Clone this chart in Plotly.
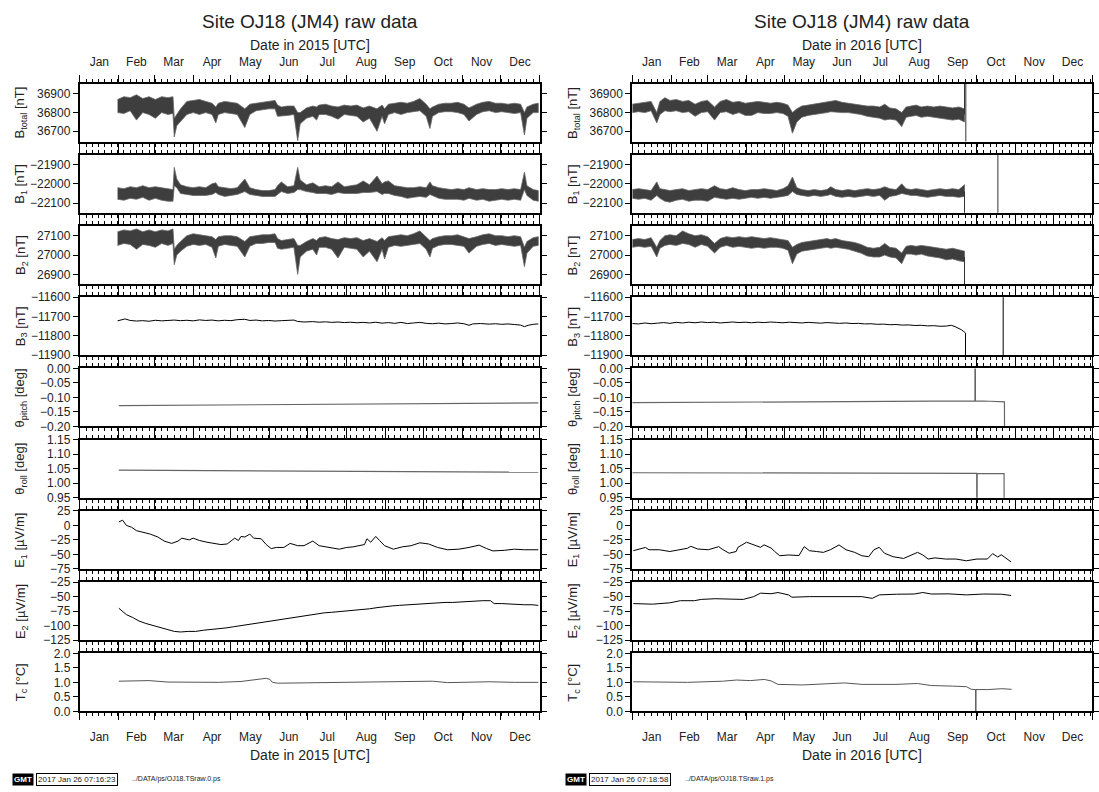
import numpy as np
import pandas as pd
import plotly.graph_objects as go

# ---------------------------------------------------------------- data (2015)
B15_DAY = [30, 35, 40, 45, 50, 55, 60, 65, 70, 74, 75, 77, 80, 85, 90, 95, 100, 105, 108, 110,
           115, 120, 125, 131, 135, 140, 145, 150, 155, 157, 160, 165, 170, 173, 175, 180, 185, 188, 190, 195,
           200, 205, 210, 215, 220, 225, 230, 236, 240, 242, 245, 250, 255, 260, 265, 270, 275, 278, 280, 285,
           290, 295, 300, 305, 309, 315, 320, 325, 330, 335, 340, 345, 350, 353, 355, 360, 364]
BT15_HI = [36870, 36885, 36880, 36895, 36875, 36885, 36870, 36885, 36880, 36885, 36770, 36790, 36820, 36860, 36865, 36870, 36860, 36850, 36830, 36850,
           36860, 36855, 36850, 36820, 36845, 36850, 36855, 36860, 36865, 36840, 36830, 36835, 36835, 36800, 36800, 36825, 36835, 36830, 36840, 36845,
           36835, 36830, 36840, 36835, 36840, 36825, 36835, 36820, 36840, 36820, 36845, 36850, 36855, 36850, 36860, 36875, 36845, 36820, 36830, 36845,
           36850, 36850, 36855, 36845, 36825, 36845, 36855, 36860, 36850, 36850, 36845, 36850, 36845, 36800, 36830, 36845, 36850]
BT15_LO = [36800, 36795, 36810, 36760, 36800, 36790, 36770, 36800, 36790, 36795, 36670, 36730, 36750, 36790, 36800, 36790, 36800, 36790, 36745, 36790,
           36800, 36795, 36790, 36720, 36790, 36810, 36815, 36820, 36820, 36780, 36780, 36785, 36790, 36650, 36740, 36770, 36780, 36760, 36790, 36790,
           36780, 36765, 36790, 36785, 36780, 36750, 36770, 36700, 36780, 36740, 36790, 36800, 36790, 36800, 36805, 36810, 36780, 36715, 36780, 36800,
           36805, 36805, 36800, 36790, 36755, 36790, 36805, 36810, 36800, 36805, 36800, 36795, 36800, 36680, 36770, 36800, 36800]
B1_15_HI = [-22020, -22025, -22015, -22020, -22010, -22020, -22015, -22020, -22025, -22030, -21915, -21975, -22005, -22015, -22020, -22015, -22020, -22000, -21995, -22015,
            -22020, -22025, -22020, -21975, -22020, -22030, -22035, -22035, -22030, -22010, -21990, -22015, -22010, -21915, -21980, -22005, -21995, -22005, -22015, -22010,
            -22015, -21990, -22015, -22010, -22005, -21985, -22005, -21960, -22000, -21990, -21985, -22010, -22015, -22020, -22020, -22015, -22020, -21990, -22010, -22020,
            -22025, -22030, -22025, -22030, -22020, -22030, -22025, -22030, -22030, -22025, -22030, -22025, -22030, -21940, -22010, -22030, -22035]
B1_15_LO = [-22080, -22085, -22075, -22080, -22070, -22085, -22075, -22085, -22090, -22090, -22010, -22020, -22050, -22055, -22060, -22060, -22060, -22055, -22045, -22055,
            -22065, -22060, -22055, -22040, -22055, -22060, -22065, -22065, -22065, -22055, -22040, -22050, -22045, -22030, -22030, -22040, -22045, -22050, -22050, -22050,
            -22055, -22045, -22050, -22050, -22050, -22045, -22045, -22040, -22055, -22050, -22050, -22060, -22065, -22075, -22070, -22065, -22070, -22055, -22060, -22075,
            -22080, -22080, -22080, -22085, -22075, -22085, -22080, -22090, -22085, -22080, -22085, -22080, -22085, -22030, -22060, -22085, -22090]
B2_15_HI = [27120, 27130, 27125, 27135, 27120, 27130, 27120, 27130, 27125, 27135, 27030, 27050, 27070, 27100, 27110, 27105, 27100, 27095, 27080, 27095,
            27100, 27100, 27095, 27070, 27095, 27100, 27105, 27105, 27110, 27085, 27075, 27080, 27085, 27050, 27050, 27070, 27085, 27075, 27090, 27095,
            27085, 27080, 27090, 27085, 27090, 27075, 27085, 27070, 27090, 27075, 27095, 27100, 27105, 27100, 27110, 27125, 27095, 27075, 27085, 27095,
            27100, 27100, 27105, 27095, 27085, 27095, 27105, 27110, 27100, 27100, 27095, 27100, 27095, 27040, 27070, 27090, 27095]
B2_15_LO = [27050, 27060, 27055, 27030, 27055, 27050, 27040, 27060, 27050, 27060, 26950, 27000, 27020, 27045, 27055, 27050, 27055, 27040, 26985, 27045,
            27055, 27050, 27045, 26990, 27045, 27060, 27060, 27065, 27065, 27035, 27030, 27035, 27040, 26900, 26990, 27020, 27030, 27000, 27040, 27040,
            27030, 26985, 27040, 27035, 27030, 26990, 27020, 26965, 27030, 26980, 27040, 27050, 27045, 27050, 27055, 27060, 27030, 26990, 27035, 27050,
            27055, 27055, 27050, 27045, 27010, 27045, 27055, 27060, 27050, 27055, 27050, 27045, 27050, 26940, 27010, 27045, 27050]
B3_15_DAY = [30, 33, 36, 40, 45, 50, 55, 60, 65, 70, 75, 80, 85, 90, 95, 100, 105, 110, 115, 120,
             125, 131, 135, 140, 145, 150, 155, 160, 165, 170, 173, 178, 185, 190, 195, 200, 205, 210, 215, 220,
             225, 230, 235, 240, 245, 250, 255, 260, 265, 270, 275, 280, 285, 290, 295, 300, 305, 309, 312, 318,
             325, 330, 335, 340, 345, 350, 353, 356, 360, 364]
B3_15_VAL = [-11722, -11718, -11712, -11720, -11723, -11721, -11724, -11719, -11722, -11720, -11718, -11721, -11719, -11722, -11717, -11720, -11718, -11722, -11719, -11721,
             -11716, -11714, -11720, -11718, -11722, -11720, -11723, -11721, -11719, -11718, -11725, -11728, -11726, -11729, -11727, -11730, -11728, -11731, -11729, -11732,
             -11730, -11733, -11729, -11734, -11731, -11735, -11730, -11736, -11733, -11730, -11735, -11737, -11734, -11738, -11736, -11733, -11737, -11745, -11738, -11736,
             -11739, -11737, -11740, -11738, -11741, -11744, -11752, -11745, -11740, -11738]
PITCH15_DAY = [31, 90, 150, 210, 270, 330, 364]
PITCH15_VAL = [-0.128, -0.126, -0.124, -0.122, -0.120, -0.119, -0.119]
ROLL15_DAY = [31, 100, 170, 240, 300, 364]
ROLL15_VAL = [1.045, 1.044, 1.042, 1.040, 1.039, 1.038]
E1_15_DAY = [31, 34, 37, 41, 45, 51, 56, 62, 67, 73, 78, 81, 87, 90, 95, 101, 106, 112, 117, 123,
             126, 128, 131, 135, 138, 144, 148, 152, 156, 162, 167, 173, 178, 185, 190, 198, 206, 212, 217, 226,
             228, 231, 235, 238, 242, 249, 256, 263, 270, 277, 284, 292, 301, 309, 317, 323, 328, 337, 345, 353, 364]
E1_15_VAL = [6, 9, 0, -3, -9, -12, -15, -20, -27, -31, -27, -22, -25, -22, -26, -29, -31, -33, -32, -22,
             -26, -19, -20, -15, -22, -23, -33, -40, -38, -38, -31, -35, -35, -27, -35, -38, -41, -38, -37, -33,
             -23, -29, -19, -26, -35, -41, -37, -35, -30, -32, -38, -42, -41, -38, -34, -40, -44, -43, -41, -42, -42]
E2_15_DAY = [31, 33, 37, 42, 47, 52, 58, 64, 70, 75, 80, 86, 92, 98, 104, 110, 116, 122, 128, 134,
             140, 146, 152, 158, 164, 170, 176, 182, 188, 194, 200, 206, 212, 218, 224, 230, 236, 242, 248, 254,
             260, 266, 272, 278, 284, 290, 296, 302, 308, 314, 320, 326, 329, 335, 341, 347, 353, 359, 364]
E2_15_VAL = [-70, -74, -81, -86, -92, -96, -100, -104, -107, -110, -111, -110, -110, -108, -107, -105, -104, -102, -100, -98,
             -96, -94, -91, -89, -87, -85, -83, -82, -80, -78, -77, -76, -75, -74, -73, -71, -69, -67, -66, -65,
             -64, -63, -62, -62, -61, -60, -60, -59, -59, -58, -57, -57, -62, -62, -63, -63, -64, -64, -65]
TC15_DAY = [31, 45, 55, 70, 90, 110, 128, 136, 145, 148, 151, 153, 157, 180, 210, 240, 270, 280, 292, 310, 325, 345, 364]
TC15_VAL = [1.04, 1.05, 1.06, 1.01, 1.00, 1.00, 1.03, 1.08, 1.12, 1.14, 1.10, 1.00, 0.97, 0.98, 0.99, 1.01, 1.03, 1.04, 0.99, 1.00, 1.02, 1.00, 1.00]

# ---------------------------------------------------------------- data (2016)
B16_DAY = [0, 5, 10, 15, 19.5, 22, 26, 30, 35, 40, 45, 50, 55, 60, 65.5, 70, 75, 80, 85, 90,
           95, 100, 105, 110, 115, 120, 124, 127.5, 131, 135, 140, 145, 150, 155, 158, 162, 167, 172, 177, 182,
           187, 192, 197, 201, 205, 210, 214.5, 218, 222, 226, 230, 235, 240, 245, 250, 255, 260, 264.5]
BT16_HI = [36845, 36850, 36855, 36860, 36800, 36860, 36880, 36865, 36870, 36860, 36865, 36845, 36860, 36865, 36830, 36860, 36870, 36855, 36860, 36850,
           36855, 36860, 36855, 36850, 36855, 36850, 36840, 36800, 36820, 36835, 36840, 36845, 36850, 36855, 36860, 36865, 36855, 36850, 36845, 36840,
           36835, 36835, 36830, 36845, 36825, 36820, 36800, 36830, 36835, 36840, 36830, 36835, 36830, 36835, 36830, 36825, 36830, 36820]
BT16_LO = [36800, 36805, 36800, 36810, 36745, 36790, 36810, 36805, 36810, 36800, 36805, 36780, 36800, 36805, 36760, 36800, 36805, 36790, 36800, 36785,
           36785, 36800, 36795, 36795, 36800, 36795, 36780, 36690, 36750, 36775, 36785, 36790, 36795, 36800, 36805, 36805, 36800, 36800, 36795, 36790,
           36780, 36775, 36770, 36760, 36765, 36760, 36725, 36775, 36780, 36785, 36775, 36780, 36775, 36770, 36765, 36760, 36765, 36750]
B1_16_HI = [-22030, -22025, -22030, -22035, -21990, -22025, -22030, -22035, -22030, -22025, -22035, -22030, -22025, -22030, -22010, -22025, -22030, -22020, -22030, -22035,
            -22030, -22030, -22025, -22030, -22035, -22025, -22010, -21965, -22020, -22030, -22035, -22030, -22035, -22030, -22015, -22030, -22035, -22030, -22035, -22030,
            -22025, -22030, -22025, -22015, -22025, -22030, -22000, -22025, -22030, -22025, -22030, -22035, -22030, -22025, -22030, -22025, -22030, -22005]
B1_16_LO = [-22075, -22080, -22075, -22085, -22060, -22075, -22090, -22095, -22085, -22080, -22090, -22085, -22085, -22090, -22070, -22075, -22080, -22075, -22080, -22075,
            -22070, -22075, -22070, -22075, -22070, -22065, -22060, -22040, -22055, -22060, -22065, -22060, -22065, -22060, -22055, -22065, -22070, -22065, -22070, -22065,
            -22060, -22065, -22060, -22085, -22065, -22060, -22050, -22055, -22060, -22060, -22065, -22070, -22065, -22060, -22065, -22065, -22070, -22065]
B2_16_HI = [27080, 27085, 27080, 27090, 27040, 27075, 27100, 27105, 27100, 27125, 27110, 27100, 27105, 27095, 27060, 27085, 27095, 27090, 27095, 27090,
            27095, 27090, 27085, 27090, 27085, 27080, 27075, 27040, 27055, 27065, 27070, 27075, 27080, 27085, 27080, 27085, 27075, 27070, 27065, 27055,
            27040, 27035, 27040, 27060, 27040, 27035, 27010, 27045, 27050, 27045, 27050, 27045, 27040, 27035, 27030, 27035, 27025, 27020]
B2_16_LO = [27040, 27045, 27040, 27045, 26990, 27035, 27050, 27055, 27050, 27060, 27055, 27040, 27055, 27045, 27010, 27040, 27050, 27040, 27045, 27040,
            27035, 27040, 27035, 27040, 27040, 27035, 27025, 26955, 27005, 27020, 27025, 27030, 27035, 27040, 27035, 27040, 27035, 27030, 27020, 27010,
            26995, 26990, 26990, 27000, 26990, 26985, 26955, 27005, 27005, 27000, 27005, 26995, 26990, 26985, 26975, 26980, 26970, 26965]
# end-of-record dropouts (values far off scale)
BT16_TAIL_DAY = [264.5, 265.5, 265.6]
BT16_TAIL_VAL = [36790, 60000, 0]
B1_16_TAIL_DAY = [264.5, 265.5, 291.0, 291.1]
B1_16_TAIL_VAL = [-22040, -60000, -60000, 0]
B2_16_TAIL_DAY = [264.5, 265.5]
B2_16_TAIL_VAL = [26990, 0]
B3_16_DAY = [0, 5, 10, 15, 20, 25, 30, 35, 40, 45, 50, 55, 60, 65, 70, 75, 80, 85, 90, 95,
             100, 105, 110, 115, 120, 125, 130, 135, 140, 145, 150, 155, 160, 165, 170, 175, 180, 185, 190, 195,
             200, 205, 210, 215, 220, 225, 230, 235, 240, 245, 250, 254, 257, 260, 262, 264, 265.3, 265.5, 295.2, 295.3]
B3_16_VAL = [-11736, -11738, -11733, -11737, -11734, -11731, -11735, -11730, -11733, -11729, -11732, -11728, -11731, -11729, -11733, -11730, -11728, -11731, -11729, -11732,
             -11729, -11731, -11728, -11730, -11732, -11729, -11731, -11733, -11730, -11732, -11734, -11731, -11733, -11735, -11733, -11736, -11735, -11738, -11737, -11740,
             -11739, -11742, -11741, -11744, -11743, -11746, -11745, -11748, -11747, -11750, -11749, -11745, -11752, -11760, -11768, -11778, -11785, -60000, -60000, 0]
PITCH16_DAY = [0, 60, 120, 180, 215, 250, 272.8, 273.0, 273.2, 285, 296.3, 296.5]
PITCH16_VAL = [-0.118, -0.117, -0.117, -0.116, -0.113, -0.113, -0.112, 0.5, -0.112, -0.113, -0.115, -0.5]
ROLL16_DAY = [0, 60, 120, 180, 240, 274.2, 274.4, 274.6, 285, 296, 296.2]
ROLL16_VAL = [1.036, 1.036, 1.035, 1.035, 1.034, 1.034, 0.5, 1.034, 1.033, 1.033, 0.5]
E1_16_DAY = [0.8, 10.5, 13.3, 21.6, 29.9, 38.3, 43.8, 46.6, 52.1, 60.5, 68.8, 71.6, 77.1, 82.7, 84.1, 91, 96.6, 102.1, 104.9, 110.5,
             113.3, 117.4, 124.4, 132.7, 136.9, 141, 146.6, 152.1, 157.7, 164.6, 170.2, 177.1, 182.7, 188.2, 192.4, 196.6, 200.8, 207.7, 216, 221.6,
             227.1, 231.3, 235.5, 241, 249.4, 257.7, 266, 274.4, 282.7, 286.9, 291, 293.8, 298, 301.6]
E1_16_VAL = [-43.6, -38, -42, -42, -45, -42, -39.5, -36, -40.7, -42, -36.6, -41, -48, -45, -37.8, -29, -33.7, -37.8, -33.5, -39,
             -44.8, -52.3, -51, -52, -36.6, -43.6, -45, -46.5, -42, -33.7, -42, -46.5, -52.3, -54, -41.9, -37.8, -48, -54, -57, -52.3,
             -46.5, -51, -58, -56, -58, -58, -61, -58, -58, -48.7, -54.5, -50.6, -58, -63]
E2_16_DAY = [0.8, 16, 29.9, 38.3, 49.4, 54.9, 66, 77.1, 88.3, 96.6, 102.1, 110.5, 116, 124.4, 127.1, 141, 154.9, 168.8, 182.7, 191,
             196.6, 210.5, 224.4, 231.3, 238.2, 252.1, 266, 279.9, 293.8, 301.6]
E2_16_VAL = [-62, -63, -60.7, -57, -57, -54.8, -53.6, -54.5, -54.8, -50, -44, -45, -42.9, -47, -51, -50, -50, -48.8, -50, -53,
             -47, -45.8, -45.5, -42.9, -45.5, -45.2, -47, -45.5, -45.8, -48]
TC16_DAY = [0.8, 44, 72, 83, 94, 105, 110.5, 116, 135.5, 155, 169, 183, 210, 227, 238, 255, 266, 270, 273.4, 273.5, 273.6, 283, 294, 302]
TC16_VAL = [1.02, 1.00, 1.04, 1.08, 1.06, 1.10, 1.05, 0.93, 0.91, 0.94, 0.98, 0.93, 0.93, 0.96, 0.89, 0.87, 0.85, 0.76, 0.75, -1.0, 0.75, 0.75, 0.78, 0.76]

# ---------------------------------------------------------------- panel definitions
Y_TITLES = ["B<sub>total</sub> [nT]", "B<sub>1</sub> [nT]", "B<sub>2</sub> [nT]", "B<sub>3</sub> [nT]",
            "θ<sub>pitch</sub> [deg]", "θ<sub>roll</sub> [deg]", "E<sub>1</sub> [µV/m]", "E<sub>2</sub> [µV/m]",
            "T<sub>c</sub> [°C]"]
Y_RANGES = [[36645, 36955], [-22150, -21850], [26850, 27150], [-11900, -11600], [-0.20, 0.00],
            [0.95, 1.15], [-75, 25], [-125, -25], [0.0, 2.0]]
Y_TICKS = [[36700, 36800, 36900], [-22100, -22000, -21900], [26900, 27000, 27100],
           [-11900, -11800, -11700, -11600], [-0.20, -0.15, -0.10, -0.05, 0.00],
           [0.95, 1.00, 1.05, 1.10, 1.15], [-75, -50, -25, 0, 25], [-125, -100, -75, -50, -25],
           [0.0, 0.5, 1.0, 1.5, 2.0]]
Y_DEC = [0, 0, 0, 0, 2, 2, 0, 0, 1]
YEARS = [2015, 2016]
TITLE = "Site OJ18 (JM4) raw data"
FOOT_TIME = ["2017 Jan 26 07:16:23", "2017 Jan 26 07:18:58"]
FOOT_PATH = ["../DATA/ps/OJ18.TSraw.0.ps", "../DATA/ps/OJ18.TSraw.1.ps"]

# ---------------------------------------------------------------- layout geometry
W, H = 1099, 792
COL_X = [(80, 541), (634, 1095)]
TOP0, STEP, PH = 78.0, 72.5, 59.0
FONT = "Liberation Sans, Arial, Helvetica, sans-serif"


def dates(year, days):
    return pd.Timestamp(f"{year}-01-01") + pd.to_timedelta(np.asarray(days, dtype=float), unit="D")


def fmt(v, d):
    s = f"{v:.{d}f}"
    return s.replace("-", "\u2212")


fig = go.Figure()
layout = {}
annotations = []


def axname(c, p):
    i = c * 9 + p + 1
    return ("x" if i == 1 else f"x{i}"), ("y" if i == 1 else f"y{i}"), i


def ann(px, py, text, size, **kw):
    d = dict(x=px / W, y=1 - py / H, xref="paper", yref="paper", text=text, showarrow=False,
             xanchor="center", yanchor="middle", font=dict(family=FONT, size=size, color="#222"))
    d.update(kw)
    annotations.append(d)


for c, year in enumerate(YEARS):
    x0, x1 = COL_X[c]
    for p in range(9):
        xr, yr, i = axname(c, p)
        top = TOP0 + STEP * p
        bot = top + PH
        xa = dict(
            type="date", range=[f"{year}-01-01", f"{year + 1}-01-01"],
            domain=[x0 / W, x1 / W], anchor=yr,
            showline=True, linecolor="black", linewidth=2, mirror="ticks",
            ticks="outside", ticklen=7, tickwidth=1, tickcolor="black",
            dtick="M1", tick0=f"{year}-01-01", tickformat="%b", ticklabelmode="period",
            showgrid=False, zeroline=False,
            minor=dict(ticks="outside", ticklen=3, tickwidth=1, tickcolor="black",
                       dtick=5 * 86400000, tick0=f"{year}-01-01", showgrid=False),
            showticklabels=(p == 0 or p == 8), side=("top" if p == 0 else "bottom"),
            ticklabelstandoff=(4 if p == 0 else 6),
            tickfont=dict(family=FONT, size=12, color="#222"),
        )
        lo, hi = Y_RANGES[p]
        eps = (hi - lo) * 1e-6
        ya = dict(
            range=[lo - eps, hi + eps], domain=[1 - bot / H, 1 - top / H], anchor=xr,
            showline=True, linecolor="black", linewidth=2, mirror="ticks",
            ticks="outside", ticklen=5, tickwidth=1, tickcolor="black",
            tickvals=Y_TICKS[p], ticktext=[fmt(v, Y_DEC[p]) for v in Y_TICKS[p]],
            showgrid=False, zeroline=False,
            tickfont=dict(family=FONT, size=12, color="#222"),
        )
        layout["xaxis" if i == 1 else f"xaxis{i}"] = xa
        layout["yaxis" if i == 1 else f"yaxis{i}"] = ya
        ann(x0 - 59, top + PH / 2, Y_TITLES[p], 13, textangle=-90)
    cx = (x0 + x1) / 2
    ann(cx, 15, TITLE, 19)
    ann(cx, 39, f"Date in {year} [UTC]", 14)
    ann(cx, 761, f"Date in {year} [UTC]", 14)
    fx = 12 + c * 555
    ann(fx, 786, "<b>GMT</b>", 8, xanchor="left", bgcolor="black", borderpad=1,
        font=dict(family=FONT, size=8, color="white"))
    ann(fx + 24, 786, FOOT_TIME[c], 8, xanchor="left", bgcolor="white", bordercolor="black",
        borderwidth=1, borderpad=1)
    ann(fx + 118, 786, FOOT_PATH[c], 7, xanchor="left")


def band(c, p, days, hi, lo):
    xr, yr, _ = axname(c, p)
    d = dates(YEARS[c], days)
    xs = list(d) + list(d[::-1])
    ys = list(hi) + list(lo[::-1])
    fig.add_trace(go.Scatter(x=xs, y=ys, xaxis=xr, yaxis=yr, mode="lines", fill="toself",
                             fillcolor="#3e3e3e", line=dict(color="#666", width=0.8),
                             hoverinfo="skip", showlegend=False))


def line(c, p, days, vals, color="black", width=1.0):
    xr, yr, _ = axname(c, p)
    fig.add_trace(go.Scatter(x=dates(YEARS[c], days), y=vals, xaxis=xr, yaxis=yr, mode="lines",
                             line=dict(color=color, width=width), hoverinfo="skip", showlegend=False))


# 2015 column
band(0, 0, B15_DAY, BT15_HI, BT15_LO)
band(0, 1, B15_DAY, B1_15_HI, B1_15_LO)
band(0, 2, B15_DAY, B2_15_HI, B2_15_LO)
line(0, 3, B3_15_DAY, B3_15_VAL)
line(0, 4, PITCH15_DAY, PITCH15_VAL, color="#666", width=1.2)
line(0, 5, ROLL15_DAY, ROLL15_VAL, color="#666", width=1.2)
line(0, 6, E1_15_DAY, E1_15_VAL)
line(0, 7, E2_15_DAY, E2_15_VAL)
line(0, 8, TC15_DAY, TC15_VAL, color="#555", width=1.0)

# 2016 column
band(1, 0, B16_DAY, BT16_HI, BT16_LO)
line(1, 0, BT16_TAIL_DAY, BT16_TAIL_VAL, color="#333", width=1.0)
band(1, 1, B16_DAY, B1_16_HI, B1_16_LO)
line(1, 1, B1_16_TAIL_DAY, B1_16_TAIL_VAL, color="#333", width=1.0)
band(1, 2, B16_DAY, B2_16_HI, B2_16_LO)
line(1, 2, B2_16_TAIL_DAY, B2_16_TAIL_VAL, color="#333", width=1.0)
line(1, 3, B3_16_DAY, B3_16_VAL)
line(1, 4, PITCH16_DAY, PITCH16_VAL, color="#666", width=1.2)
line(1, 5, ROLL16_DAY, ROLL16_VAL, color="#666", width=1.2)
line(1, 6, E1_16_DAY, E1_16_VAL)
line(1, 7, E2_16_DAY, E2_16_VAL)
line(1, 8, TC16_DAY, TC16_VAL, color="#555", width=1.0)

fig.update_layout(width=W, height=H, autosize=False, margin=dict(l=0, r=0, t=0, b=0),
                  paper_bgcolor="white", plot_bgcolor="white", showlegend=False,
                  font=dict(family=FONT, color="#222"), annotations=annotations, **layout)
fig.write_html("out.html")
